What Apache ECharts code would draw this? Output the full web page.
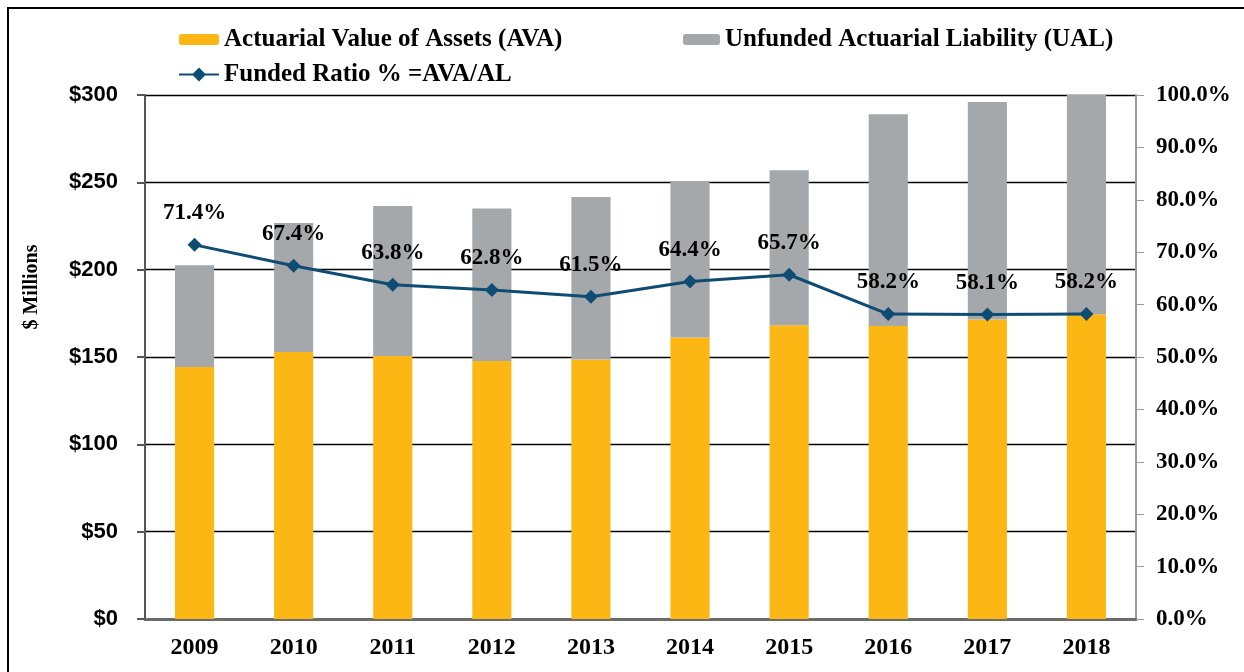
<!DOCTYPE html>
<html>
<head>
<meta charset="utf-8">
<script src="https://cdn.jsdelivr.net/npm/echarts@6/dist/echarts.min.js"></script>
<style>
  html, body { margin: 0; padding: 0; background: #fff; }
  #chart { width: 1244px; height: 672px; }
</style>
</head>
<body>
<div id="chart"></div>
<script>
// data
var years = ["2009", "2010", "2011", "2012", "2013", "2014", "2015", "2016", "2017", "2018"];
var avaValues = [144.3, 152.9, 150.6, 147.7, 148.5, 161.1, 168.2, 167.8, 171.4, 174.5];
var ualValues = [58.2, 73.8, 85.9, 87.3, 93.1, 89.7, 88.7, 121.2, 124.6, 125.5];
var fundedRatio = [71.4, 67.4, 63.8, 62.8, 61.5, 64.4, 65.7, 58.2, 58.1, 58.2];

var serif = '"Liberation Serif", "DejaVu Serif", serif';
var sans = '"Liberation Sans", Arial, sans-serif';

var chart = echarts.init(document.getElementById("chart"));

var legendText = { fontFamily: serif, fontWeight: "bold", fontSize: 25, color: "#000" };

var option = {
    backgroundColor: "#fff",
    animation: false,
    graphic: [{
        type: "rect",
        shape: { x: 8, y: 8, width: 1250, height: 680 },
        style: { fill: "none", stroke: "#000", lineWidth: 2 },
        silent: true
    }],
    legend: [
        {
            left: 174, top: 22, itemWidth: 40, itemHeight: 11,
            data: ["Actuarial Value of Assets (AVA)"],
            textStyle: legendText
        },
        {
            left: 678, top: 22, itemWidth: 37, itemHeight: 11,
            data: ["Unfunded Actuarial Liability (UAL)"],
            textStyle: legendText
        },
        {
            left: 174, top: 57, itemWidth: 40, itemHeight: 14,
            data: [{ name: "Funded Ratio % =AVA/AL", icon: "path://M0,6 L14,6 L20,0 L26,6 L40,6 L40,8 L26,8 L20,14 L14,8 L0,8 Z" }],
            textStyle: legendText
        }
    ],
    grid: { left: 145, right: 108, top: 95, bottom: 53 },
    xAxis: {
        type: "category",
        data: years,
        axisTick: { show: false },
        axisLine: { lineStyle: { color: "#6b6b6b", width: 3 } },
        axisLabel: { margin: 17, fontFamily: serif, fontWeight: "bold", fontSize: 24, color: "#000" }
    },
    yAxis: [
        {
            type: "value",
            min: 0, max: 300, interval: 50,
            name: "$ Millions",
            nameLocation: "middle",
            nameGap: 103,
            nameTextStyle: { fontFamily: serif, fontWeight: "bold", fontSize: 20, color: "#000", padding: [0, 0, 0, 140] },
            axisLine: { show: true, lineStyle: { color: "#555", width: 2 } },
            axisTick: { show: true, length: 8, lineStyle: { color: "#555", width: 2 } },
            axisLabel: {
                margin: 27, fontFamily: sans, fontWeight: "bold", fontSize: 22, color: "#000",
                formatter: function (v) { return "$" + v; }
            },
            splitLine: { show: true, lineStyle: { color: "#000", width: 1.3 } }
        },
        {
            type: "value",
            min: 0, max: 100, interval: 10,
            position: "right",
            axisLine: { show: true, lineStyle: { color: "#9a9a9a", width: 2 } },
            axisTick: { show: true, length: 8, lineStyle: { color: "#9a9a9a", width: 1 } },
            axisLabel: {
                margin: 20, fontFamily: serif, fontWeight: "bold", fontSize: 23, color: "#000",
                formatter: function (v) { return v.toFixed(1) + "%"; }
            },
            splitLine: { show: false }
        }
    ],
    series: [
        {
            name: "Actuarial Value of Assets (AVA)",
            type: "bar",
            stack: "total",
            barWidth: "39.5%",
            itemStyle: { color: "#FDB715" },
            data: avaValues
        },
        {
            name: "Unfunded Actuarial Liability (UAL)",
            type: "bar",
            stack: "total",
            itemStyle: { color: "#A5A8AB" },
            data: ualValues
        },
        {
            name: "Funded Ratio % =AVA/AL",
            type: "line",
            yAxisIndex: 1,
            symbol: "diamond",
            symbolSize: 14,
            lineStyle: { color: "#0E4C74", width: 3 },
            itemStyle: { color: "#0E4C74" },
            label: {
                show: true,
                position: "top",
                distance: 13,
                fontFamily: serif, fontWeight: "bold", fontSize: 23, color: "#000",
                formatter: function (p) { return p.value.toFixed(1) + "%"; }
            },
            data: fundedRatio
        }
    ]
};

chart.setOption(option);
</script>
</body>
</html>
